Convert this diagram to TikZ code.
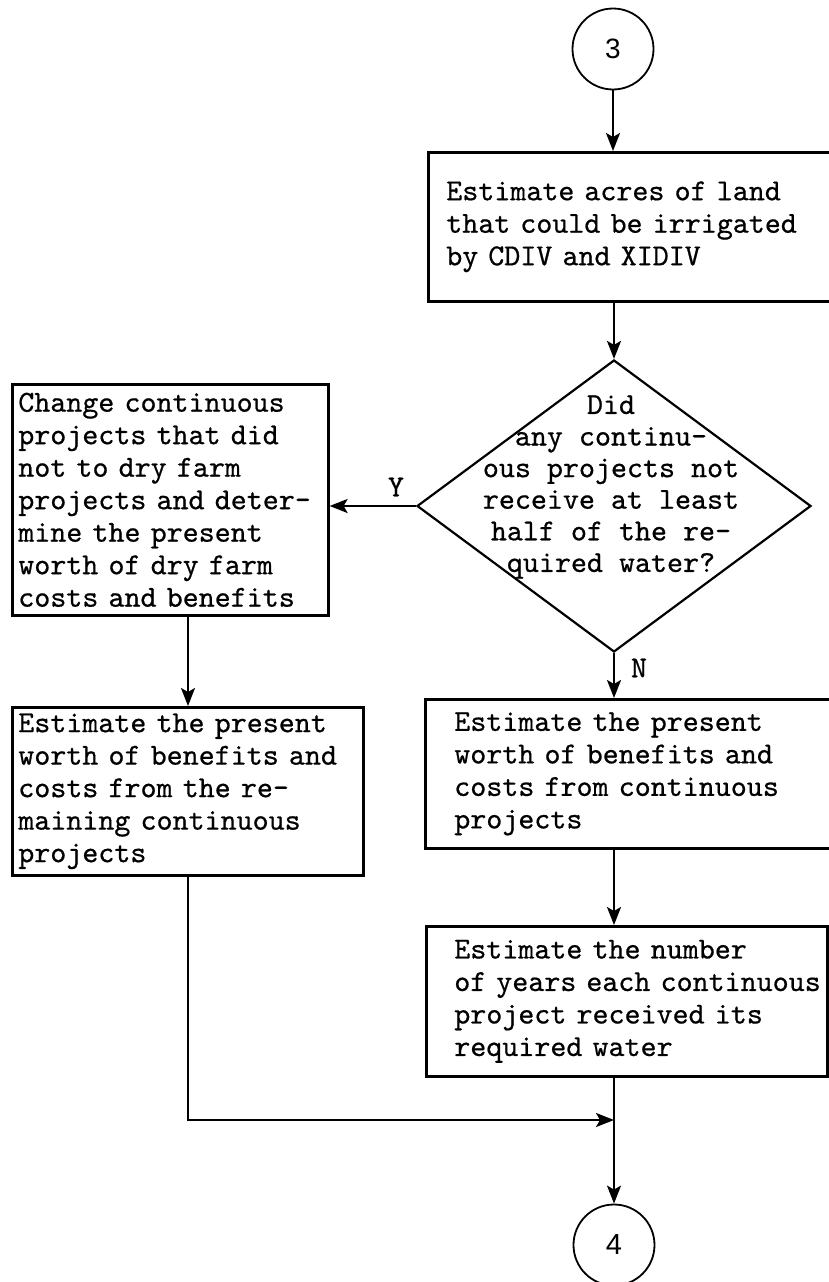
\documentclass[tikz,border=0pt]{standalone}
\usepackage{fontspec}
\setmainfont{lmmono10-regular}[Extension=.otf, FakeBold=0.6, HyphenChar=None]
\newfontfamily\digitfont{Liberation Sans}
\usetikzlibrary{shapes.geometric,arrows.meta}
% one typed line that must not be broken
\newcommand\tline[1]{\mbox{#1}}
% the narrow gap the typewriter left between some words
\newcommand\nsp{\hspace{10pt}}

\begin{document}
\begin{tikzpicture}[x=1pt,y=-1pt,
  txt/.style={font=\fontsize{30.5}{32.5}\selectfont},
  procbox/.style={draw, line width=2.6pt, rectangle, anchor=north west,
    align=left, inner ysep=0pt, txt},
  decision/.style={diamond, draw, line width=2.2pt, inner sep=0pt},
  connector/.style={circle, draw, line width=1.8pt, minimum size=81pt, inner sep=0pt},
  arr/.style={line width=2.2pt, -{Stealth[length=18pt,width=14pt,inset=4pt]}},
  flag/.style={txt, inner sep=0pt}]

\path[use as bounding box] (0,0) rectangle (828,1282);

% connectors in and out
\node[connector, font=\digitfont\fontsize{28}{28}\selectfont] (c3) at (613,49) {3};
\node[connector, font=\digitfont\fontsize{29}{29}\selectfont] (c4) at (614,1245) {4};

% process boxes on the right
\node[procbox, inner xsep=18pt, text width=384pt, minimum width=420pt, minimum height=149pt]
  (b1) at (427,151)
  {\tline{Estimate\nsp acres of land}\\
   \tline{that\nsp could be irrigated}\\
   \tline{by\nsp CDIV and XIDIV}};

\node[procbox, inner xsep=29pt, text width=362pt, minimum width=420pt, minimum height=149pt]
  (b2) at (424,698)
  {\tline{Estimate the present}\\
   \tline{worth of benefits and}\\
   \tline{costs from continuous}\\
   \tline{projects}};

\node[procbox, inner xsep=28pt, text width=345pt, minimum width=401pt, minimum height=150pt]
  (b3) at (425,925)
  {\tline{Estimate the number}\\
   \tline{of\nsp years\nsp each continuous}\\
   \tline{project received its}\\
   \tline{required water}};

% process boxes on the left
\node[procbox, inner xsep=6pt, text width=304pt, minimum width=316pt, minimum height=231pt]
  (lb1) at (11,383)
  {\tline{Change continuous}\\
   \tline{projects that did}\\
   \tline{not to dry farm}\\
   \tline{projects and deter-}\\
   \tline{mine the present}\\
   \tline{worth of dry farm}\\
   \tline{costs and benefits}};

\node[procbox, inner xsep=6pt, text width=339pt, minimum width=351pt, minimum height=168pt]
  (lb2) at (11,706)
  {\tline{Estimate the present}\\
   \tline{worth of benefits and}\\
   \tline{costs from the re-}\\
   \tline{maining continuous}\\
   \tline{projects}};

% decision
\node[decision, minimum width=394pt, minimum height=292pt] (dia) at (614,506) {};
\node[txt, align=center, font=\fontsize{30.5}{31.6}\selectfont] (dtxt) at (611,487)
  {Did\\any continu-\\ous projects not\\receive at least\\half of the re-\\quired water?};

\node[flag] (ylab) at (396,487) {Y};
\node[flag] (nlab) at (639,668) {N};

% routing points
\coordinate (lx) at (188,0);
\coordinate (mj) at (614,1120);

% flow lines
\draw[arr] (c3) -- (c3 |- b1.north);
\draw[arr] (dia.north |- b1.south) -- (dia.north);
\draw[arr] (dia.west) -- (lb1.east |- dia.west);
\draw[arr] (dia.south) -- (dia.south |- b2.north);
\draw[arr] (lb1.south -| lx) -- (lb2.north -| lx);
\draw[arr] (dia.south |- b2.south) -- (dia.south |- b3.north);
\draw[arr] (lb2.south -| lx) |- (mj);
\draw[arr] (mj |- b3.south) -- (c4.north);
\end{tikzpicture}
\end{document}
